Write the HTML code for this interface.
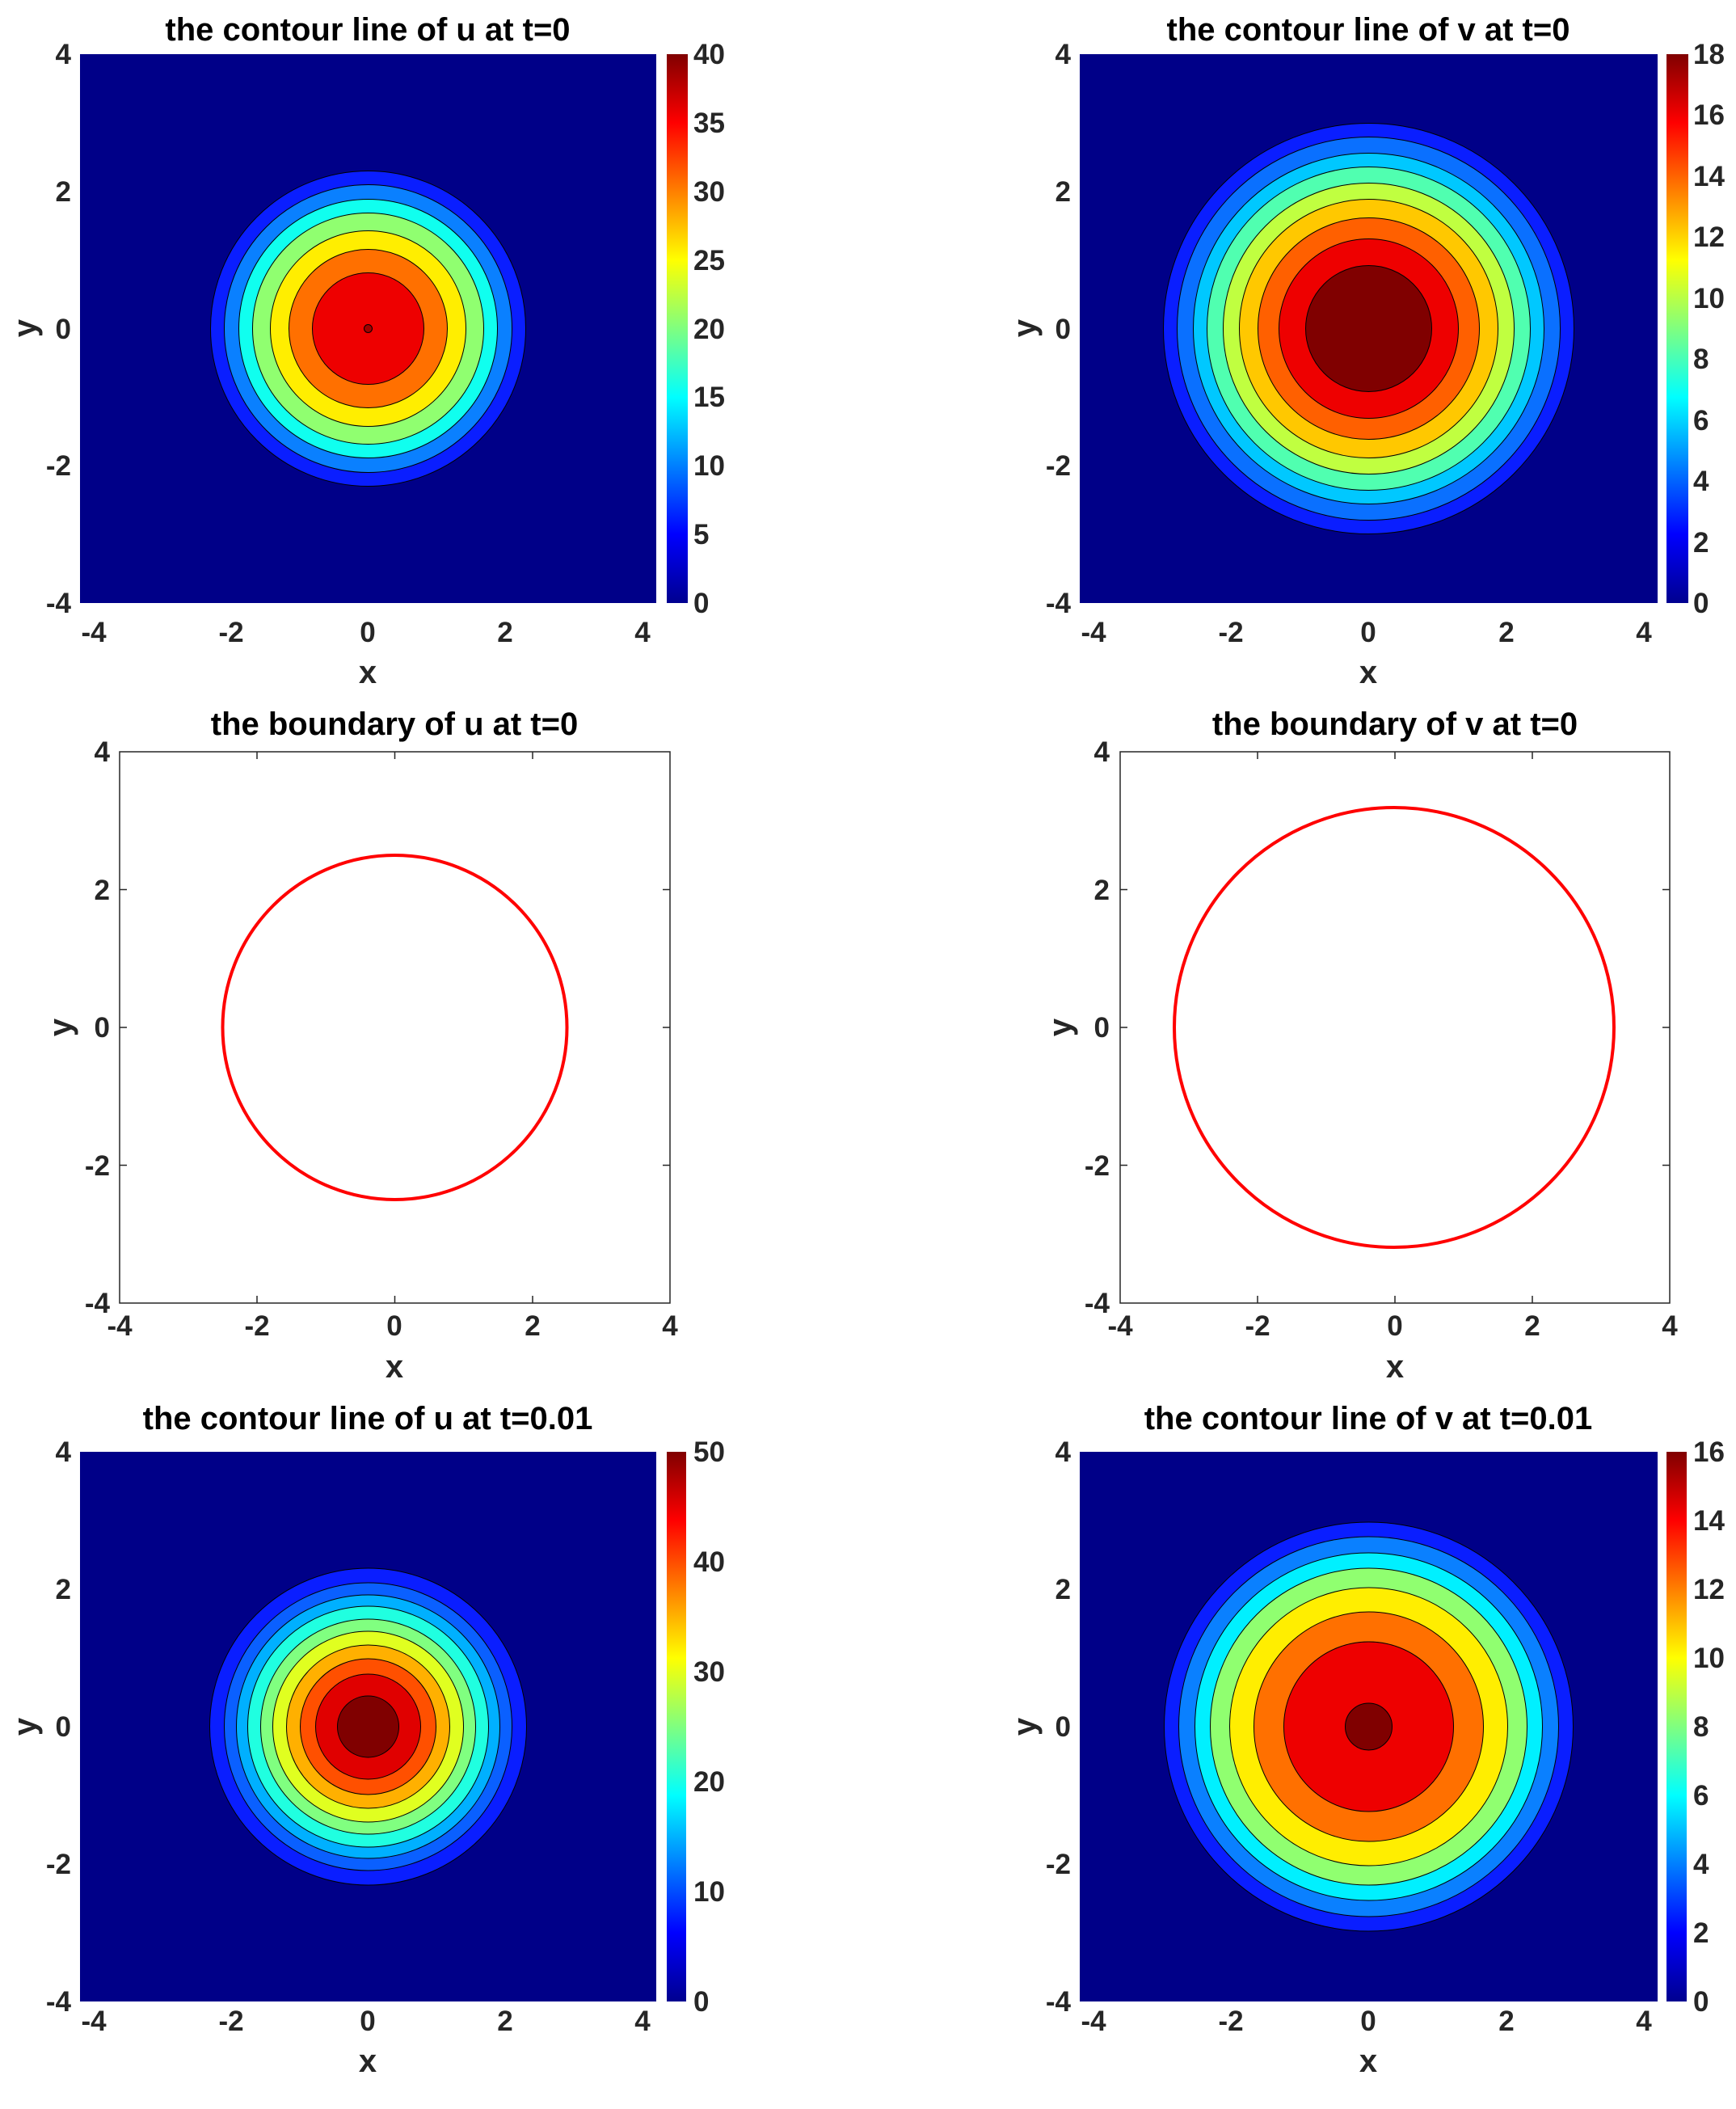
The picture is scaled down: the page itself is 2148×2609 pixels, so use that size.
<!DOCTYPE html>
<html><head><meta charset="utf-8"><style>
html,body{margin:0;padding:0;background:#fff;}
svg text{font-family:"Liberation Sans",Arial,sans-serif;font-weight:bold;}
.t{font-size:35px;fill:#262626;}
.ti{font-size:40px;fill:#000;}
.lb{font-size:40px;fill:#262626;}
</style></head><body>
<svg width="2148" height="2604" viewBox="0 0 2148 2604" xmlns="http://www.w3.org/2000/svg">
<defs>
<linearGradient id="jet" x1="0" y1="1" x2="0" y2="0">
<stop offset="0" stop-color="#00008f"/><stop offset="0.125" stop-color="#0000ff"/>
<stop offset="0.375" stop-color="#00ffff"/><stop offset="0.625" stop-color="#ffff00"/>
<stop offset="0.875" stop-color="#ff0000"/><stop offset="1" stop-color="#800000"/>
</linearGradient>
</defs>
<g stroke="#000" stroke-width="1">
<rect x="99" y="67" width="713" height="679" fill="#000088" stroke="none"/>
<circle cx="455.5" cy="406.5" r="195" fill="#0a1eff"/>
<circle cx="455.5" cy="406.5" r="178" fill="#0a80ff"/>
<circle cx="455.5" cy="406.5" r="160" fill="#10ffef"/>
<circle cx="455.5" cy="406.5" r="143" fill="#90ff70"/>
<circle cx="455.5" cy="406.5" r="121" fill="#ffee00"/>
<circle cx="455.5" cy="406.5" r="98" fill="#ff7000"/>
<circle cx="455.5" cy="406.5" r="69" fill="#ee0000"/>
<circle cx="455.5" cy="406.5" r="5" fill="#a00000"/>
<rect x="1336" y="67" width="715" height="679" fill="#000088" stroke="none"/>
<circle cx="1693.5" cy="406.5" r="254" fill="#0a1eff"/>
<circle cx="1693.5" cy="406.5" r="237" fill="#0a70ff"/>
<circle cx="1693.5" cy="406.5" r="217" fill="#00c8ff"/>
<circle cx="1693.5" cy="406.5" r="200" fill="#50ffb0"/>
<circle cx="1693.5" cy="406.5" r="180" fill="#c0ff40"/>
<circle cx="1693.5" cy="406.5" r="160" fill="#ffc800"/>
<circle cx="1693.5" cy="406.5" r="137" fill="#ff6000"/>
<circle cx="1693.5" cy="406.5" r="111" fill="#ee0000"/>
<circle cx="1693.5" cy="406.5" r="78" fill="#800000"/>
<rect x="99" y="1796" width="713" height="680" fill="#000088" stroke="none"/>
<circle cx="455.5" cy="2136" r="196" fill="#0a1eff"/>
<circle cx="455.5" cy="2136" r="178" fill="#0a60ff"/>
<circle cx="455.5" cy="2136" r="163" fill="#00b0ff"/>
<circle cx="455.5" cy="2136" r="149" fill="#20ffe0"/>
<circle cx="455.5" cy="2136" r="133" fill="#80ff80"/>
<circle cx="455.5" cy="2136" r="118" fill="#e0ff20"/>
<circle cx="455.5" cy="2136" r="101" fill="#ffb000"/>
<circle cx="455.5" cy="2136" r="84" fill="#ff5000"/>
<circle cx="455.5" cy="2136" r="65" fill="#e00000"/>
<circle cx="455.5" cy="2136" r="38" fill="#800000"/>
<rect x="1336" y="1796" width="715" height="680" fill="#000088" stroke="none"/>
<circle cx="1693.5" cy="2136" r="253" fill="#0a1eff"/>
<circle cx="1693.5" cy="2136" r="235" fill="#0a80ff"/>
<circle cx="1693.5" cy="2136" r="215" fill="#00f0ff"/>
<circle cx="1693.5" cy="2136" r="196" fill="#90ff70"/>
<circle cx="1693.5" cy="2136" r="172" fill="#ffee00"/>
<circle cx="1693.5" cy="2136" r="142" fill="#ff7000"/>
<circle cx="1693.5" cy="2136" r="105" fill="#ee0000"/>
<circle cx="1693.5" cy="2136" r="29" fill="#800000"/>
</g>
<g fill="none" stroke="#262626" stroke-width="1.5">
<rect x="148" y="930" width="681" height="682"/>
<rect x="1386" y="930" width="680" height="682"/>
<path d="M318,1612v-9M488.5,1612v-9M659,1612v-9M318,930v9M488.5,930v9M659,930v9M148,1100.5h9M148,1271h9M148,1441.5h9M829,1100.5h-9M829,1271h-9M829,1441.5h-9"/>
<path d="M1556,1612v-9M1726,1612v-9M1896,1612v-9M1556,930v9M1726,930v9M1896,930v9M1386,1100.5h9M1386,1271h9M1386,1441.5h9M2066,1100.5h-9M2066,1271h-9M2066,1441.5h-9"/>
</g>
<circle cx="488.5" cy="1271" r="213" fill="none" stroke="#ff0000" stroke-width="4"/>
<circle cx="1725" cy="1271" r="272" fill="none" stroke="#ff0000" stroke-width="4"/>
<rect x="825" y="67" width="26" height="679" fill="url(#jet)"/>
<rect x="2062" y="67" width="27" height="679" fill="url(#jet)"/>
<rect x="825" y="1796" width="24" height="680" fill="url(#jet)"/>
<rect x="2062" y="1796" width="25" height="680" fill="url(#jet)"/>
<g class="ti" text-anchor="middle">
<text x="455" y="50">the contour line of u at t=0</text>
<text x="1693" y="50">the contour line of v at t=0</text>
<text x="488" y="909">the boundary of u at t=0</text>
<text x="1726" y="909">the boundary of v at t=0</text>
<text x="455" y="1768">the contour line of u at t=0.01</text>
<text x="1693" y="1768">the contour line of v at t=0.01</text>
</g>
<g class="lb" text-anchor="middle">
<text x="455" y="845">x</text><text x="1693" y="845">x</text>
<text x="488" y="1704">x</text><text x="1726" y="1704">x</text>
<text x="455" y="2563">x</text><text x="1693" y="2563">x</text>
<text transform="translate(44,406) rotate(-90)">y</text>
<text transform="translate(1281,406) rotate(-90)">y</text>
<text transform="translate(88,1271) rotate(-90)">y</text>
<text transform="translate(1325,1271) rotate(-90)">y</text>
<text transform="translate(44,2136) rotate(-90)">y</text>
<text transform="translate(1281,2136) rotate(-90)">y</text>
</g>
<g class="t" text-anchor="middle">
<text x="116" y="794">-4</text><text x="286" y="794">-2</text><text x="455" y="794">0</text><text x="625" y="794">2</text><text x="795" y="794">4</text>
<text x="1353" y="794">-4</text><text x="1523" y="794">-2</text><text x="1693" y="794">0</text><text x="1864" y="794">2</text><text x="2034" y="794">4</text>
<text x="148" y="1652">-4</text><text x="318" y="1652">-2</text><text x="488" y="1652">0</text><text x="659" y="1652">2</text><text x="829" y="1652">4</text>
<text x="1386" y="1652">-4</text><text x="1556" y="1652">-2</text><text x="1726" y="1652">0</text><text x="1896" y="1652">2</text><text x="2066" y="1652">4</text>
<text x="116" y="2512">-4</text><text x="286" y="2512">-2</text><text x="455" y="2512">0</text><text x="625" y="2512">2</text><text x="795" y="2512">4</text>
<text x="1353" y="2512">-4</text><text x="1523" y="2512">-2</text><text x="1693" y="2512">0</text><text x="1864" y="2512">2</text><text x="2034" y="2512">4</text>
</g>
<g class="t" text-anchor="end">
<text x="88" y="79">4</text><text x="88" y="249">2</text><text x="88" y="419">0</text><text x="88" y="588">-2</text><text x="88" y="758">-4</text>
<text x="1325" y="79">4</text><text x="1325" y="249">2</text><text x="1325" y="419">0</text><text x="1325" y="588">-2</text><text x="1325" y="758">-4</text>
<text x="136" y="942">4</text><text x="136" y="1113">2</text><text x="136" y="1283">0</text><text x="136" y="1454">-2</text><text x="136" y="1624">-4</text>
<text x="1373" y="942">4</text><text x="1373" y="1113">2</text><text x="1373" y="1283">0</text><text x="1373" y="1454">-2</text><text x="1373" y="1624">-4</text>
<text x="88" y="1808">4</text><text x="88" y="1978">2</text><text x="88" y="2148">0</text><text x="88" y="2318">-2</text><text x="88" y="2488">-4</text>
<text x="1325" y="1808">4</text><text x="1325" y="1978">2</text><text x="1325" y="2148">0</text><text x="1325" y="2318">-2</text><text x="1325" y="2488">-4</text>
</g>
<g class="t" text-anchor="start">
<text x="858" y="758">0</text><text x="858" y="673">5</text><text x="858" y="588">10</text><text x="858" y="503">15</text><text x="858" y="419">20</text><text x="858" y="334">25</text><text x="858" y="249">30</text><text x="858" y="164">35</text><text x="858" y="79">40</text>
<text x="2095" y="758">0</text><text x="2095" y="683">2</text><text x="2095" y="607">4</text><text x="2095" y="532">6</text><text x="2095" y="456">8</text><text x="2095" y="381">10</text><text x="2095" y="305">12</text><text x="2095" y="230">14</text><text x="2095" y="154">16</text><text x="2095" y="79">18</text>
<text x="858" y="2488">0</text><text x="858" y="2352">10</text><text x="858" y="2216">20</text><text x="858" y="2080">30</text><text x="858" y="1944">40</text><text x="858" y="1808">50</text>
<text x="2095" y="2488">0</text><text x="2095" y="2403">2</text><text x="2095" y="2318">4</text><text x="2095" y="2233">6</text><text x="2095" y="2148">8</text><text x="2095" y="2063">10</text><text x="2095" y="1978">12</text><text x="2095" y="1893">14</text><text x="2095" y="1808">16</text>
</g>
</svg>
</body></html>
